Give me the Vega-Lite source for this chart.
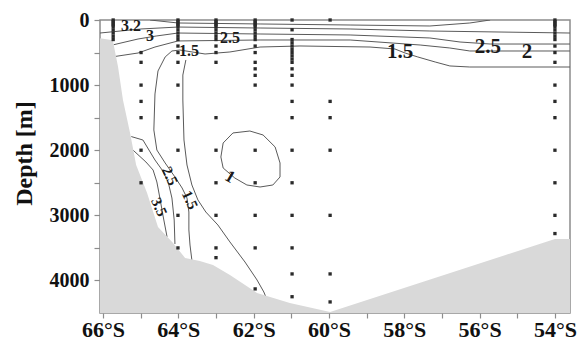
{
  "$schema": "https://vega.github.io/schema/vega-lite/v6.json",
  "width": 470,
  "height": 293,
  "autosize": {"type": "none"},
  "padding": {"left": 100, "top": 20, "right": 10, "bottom": 27},
  "background": "white",
  "config": {
    "view": {"stroke": "#8c8c8c", "strokeWidth": 1.5},
    "font": "Liberation Serif"
  },
  "datasets": {
    "bathy": [
      {"lat": -66.08, "depth": 280}, {"lat": -65.74, "depth": 310}, {"lat": -65.6, "depth": 720},
      {"lat": -65.47, "depth": 1230}, {"lat": -65.28, "depth": 1740}, {"lat": -65.12, "depth": 2227},
      {"lat": -64.83, "depth": 2657}, {"lat": -64.54, "depth": 3179}, {"lat": -64.14, "depth": 3425},
      {"lat": -63.82, "depth": 3655}, {"lat": -63.43, "depth": 3700}, {"lat": -63.08, "depth": 3763},
      {"lat": -62.63, "depth": 3916}, {"lat": -61.91, "depth": 4193}, {"lat": -61.04, "depth": 4346},
      {"lat": -59.97, "depth": 4485}, {"lat": -54.0, "depth": 3363}, {"lat": -53.6, "depth": 3363}
    ],
    "contours": [
      {"c": "c1", "i": 0, "lat": -53.6, "depth": 722}, {"c": "c1", "i": 1, "lat": -56.26, "depth": 722},
      {"c": "c1", "i": 2, "lat": -56.79, "depth": 706}, {"c": "c1", "i": 3, "lat": -57.18, "depth": 645},
      {"c": "c1", "i": 4, "lat": -57.64, "depth": 568}, {"c": "c1", "i": 5, "lat": -57.98, "depth": 507},
      {"c": "c1", "i": 6, "lat": -58.25, "depth": 445}, {"c": "c1", "i": 7, "lat": -58.91, "depth": 415},
      {"c": "c1", "i": 8, "lat": -60.77, "depth": 399}, {"c": "c1", "i": 9, "lat": -61.83, "depth": 415},
      {"c": "c1", "i": 10, "lat": -62.63, "depth": 491}, {"c": "c1", "i": 11, "lat": -63.29, "depth": 522},
      {"c": "c1", "i": 12, "lat": -63.96, "depth": 461}, {"c": "c1", "i": 13, "lat": -64.17, "depth": 476},
      {"c": "c1", "i": 14, "lat": -64.35, "depth": 568}, {"c": "c1", "i": 15, "lat": -64.54, "depth": 783},
      {"c": "c1", "i": 16, "lat": -64.62, "depth": 1136}, {"c": "c1", "i": 17, "lat": -64.65, "depth": 1689},
      {"c": "c1", "i": 18, "lat": -64.57, "depth": 1997}, {"c": "c1", "i": 19, "lat": -64.35, "depth": 2196},
      {"c": "c1", "i": 20, "lat": -64.09, "depth": 2411}, {"c": "c1", "i": 21, "lat": -63.9, "depth": 2580},
      {"c": "c1", "i": 22, "lat": -63.77, "depth": 2734}, {"c": "c1", "i": 23, "lat": -63.72, "depth": 2949},
      {"c": "c1", "i": 24, "lat": -63.72, "depth": 3225}, {"c": "c1", "i": 25, "lat": -63.69, "depth": 3456},
      {"c": "c1", "i": 26, "lat": -63.64, "depth": 3690},

      {"c": "c2", "i": 0, "lat": -63.8, "depth": 614}, {"c": "c2", "i": 1, "lat": -63.88, "depth": 845},
      {"c": "c2", "i": 2, "lat": -63.88, "depth": 1229}, {"c": "c2", "i": 3, "lat": -63.85, "depth": 1843},
      {"c": "c2", "i": 4, "lat": -63.77, "depth": 2227}, {"c": "c2", "i": 5, "lat": -63.64, "depth": 2534},
      {"c": "c2", "i": 6, "lat": -63.48, "depth": 2764}, {"c": "c2", "i": 7, "lat": -63.27, "depth": 2949},
      {"c": "c2", "i": 8, "lat": -62.95, "depth": 3148}, {"c": "c2", "i": 9, "lat": -62.63, "depth": 3409},
      {"c": "c2", "i": 10, "lat": -62.23, "depth": 3717}, {"c": "c2", "i": 11, "lat": -61.91, "depth": 3993},
      {"c": "c2", "i": 12, "lat": -61.73, "depth": 4177}, {"c": "c2", "i": 13, "lat": -61.65, "depth": 4290},

      {"c": "c3", "i": 0, "lat": -65.25, "depth": 1790}, {"c": "c3", "i": 1, "lat": -64.94, "depth": 1843},
      {"c": "c3", "i": 2, "lat": -64.78, "depth": 1997}, {"c": "c3", "i": 3, "lat": -64.62, "depth": 2150},
      {"c": "c3", "i": 4, "lat": -64.43, "depth": 2304}, {"c": "c3", "i": 5, "lat": -64.27, "depth": 2488},
      {"c": "c3", "i": 6, "lat": -64.17, "depth": 2734}, {"c": "c3", "i": 7, "lat": -64.11, "depth": 3072},
      {"c": "c3", "i": 8, "lat": -64.09, "depth": 3440},

      {"c": "c4", "i": 0, "lat": -65.2, "depth": 2000}, {"c": "c4", "i": 1, "lat": -64.86, "depth": 2181},
      {"c": "c4", "i": 2, "lat": -64.67, "depth": 2304}, {"c": "c4", "i": 3, "lat": -64.57, "depth": 2488},
      {"c": "c4", "i": 4, "lat": -64.49, "depth": 2734}, {"c": "c4", "i": 5, "lat": -64.41, "depth": 2995},
      {"c": "c4", "i": 6, "lat": -64.3, "depth": 3330},

      {"c": "c5", "i": 0, "lat": -62.81, "depth": 1889}, {"c": "c5", "i": 1, "lat": -62.55, "depth": 1735},
      {"c": "c5", "i": 2, "lat": -62.1, "depth": 1705}, {"c": "c5", "i": 3, "lat": -61.75, "depth": 1766},
      {"c": "c5", "i": 4, "lat": -61.43, "depth": 1950}, {"c": "c5", "i": 5, "lat": -61.3, "depth": 2196},
      {"c": "c5", "i": 6, "lat": -61.3, "depth": 2411}, {"c": "c5", "i": 7, "lat": -61.49, "depth": 2534},
      {"c": "c5", "i": 8, "lat": -61.83, "depth": 2565}, {"c": "c5", "i": 9, "lat": -62.18, "depth": 2534},
      {"c": "c5", "i": 10, "lat": -62.5, "depth": 2427}, {"c": "c5", "i": 11, "lat": -62.81, "depth": 2273},
      {"c": "c5", "i": 12, "lat": -62.87, "depth": 2104}, {"c": "c5", "i": 13, "lat": -62.81, "depth": 1889},

      {"c": "b3", "i": 0, "lat": -65.68, "depth": 560}, {"c": "b3", "i": 1, "lat": -65.07, "depth": 507},
      {"c": "b3", "i": 2, "lat": -64.62, "depth": 415}, {"c": "b3", "i": 3, "lat": -64.01, "depth": 322},
      {"c": "b3", "i": 4, "lat": -61.83, "depth": 307}, {"c": "b3", "i": 5, "lat": -59.44, "depth": 307},
      {"c": "b3", "i": 6, "lat": -57.58, "depth": 384}, {"c": "b3", "i": 7, "lat": -56.79, "depth": 430},
      {"c": "b3", "i": 8, "lat": -56.26, "depth": 476}, {"c": "b3", "i": 9, "lat": -53.6, "depth": 476},

      {"c": "b2", "i": 0, "lat": -65.72, "depth": 380}, {"c": "b2", "i": 1, "lat": -65.07, "depth": 292},
      {"c": "b2", "i": 2, "lat": -64.59, "depth": 246}, {"c": "b2", "i": 3, "lat": -64.01, "depth": 200},
      {"c": "b2", "i": 4, "lat": -61.83, "depth": 215}, {"c": "b2", "i": 5, "lat": -59.44, "depth": 230},
      {"c": "b2", "i": 6, "lat": -57.32, "depth": 276}, {"c": "b2", "i": 7, "lat": -56.52, "depth": 338},
      {"c": "b2", "i": 8, "lat": -55.72, "depth": 369}, {"c": "b2", "i": 9, "lat": -53.6, "depth": 369},

      {"c": "b1", "i": 0, "lat": -66.08, "depth": 200}, {"c": "b1", "i": 1, "lat": -65.0, "depth": 138},
      {"c": "b1", "i": 2, "lat": -64.01, "depth": 108}, {"c": "b1", "i": 3, "lat": -61.83, "depth": 123},
      {"c": "b1", "i": 4, "lat": -59.44, "depth": 138}, {"c": "b1", "i": 5, "lat": -57.32, "depth": 169},
      {"c": "b1", "i": 6, "lat": -53.6, "depth": 200},

      {"c": "b0", "i": 0, "lat": -64.75, "depth": 0}, {"c": "b0", "i": 1, "lat": -64.01, "depth": 46},
      {"c": "b0", "i": 2, "lat": -61.83, "depth": 61}, {"c": "b0", "i": 3, "lat": -59.44, "depth": 77},
      {"c": "b0", "i": 4, "lat": -57.32, "depth": 92}, {"c": "b0", "i": 5, "lat": -56.26, "depth": 46},
      {"c": "b0", "i": 6, "lat": -55.72, "depth": 0}
    ],
    "stations": [
      {"lat": -65.73, "depth": 0}, {"lat": -65.73, "depth": 25}, {"lat": -65.73, "depth": 50}, {"lat": -65.73, "depth": 75},
      {"lat": -65.73, "depth": 100}, {"lat": -65.73, "depth": 150}, {"lat": -65.73, "depth": 200}, {"lat": -65.73, "depth": 250},
      {"lat": -65.73, "depth": 300},
      {"lat": -64.99, "depth": 500}, {"lat": -64.99, "depth": 650}, {"lat": -64.99, "depth": 1000}, {"lat": -64.99, "depth": 1250},
      {"lat": -64.99, "depth": 1500}, {"lat": -64.99, "depth": 2000}, {"lat": -64.99, "depth": 2500},
      {"lat": -64.01, "depth": 0}, {"lat": -64.01, "depth": 25}, {"lat": -64.01, "depth": 50}, {"lat": -64.01, "depth": 75},
      {"lat": -64.01, "depth": 100}, {"lat": -64.01, "depth": 150}, {"lat": -64.01, "depth": 200}, {"lat": -64.01, "depth": 250},
      {"lat": -64.01, "depth": 300}, {"lat": -64.01, "depth": 400}, {"lat": -64.01, "depth": 500}, {"lat": -64.01, "depth": 650},
      {"lat": -64.01, "depth": 1000}, {"lat": -64.01, "depth": 1500}, {"lat": -64.01, "depth": 2000}, {"lat": -64.01, "depth": 3000},
      {"lat": -64.01, "depth": 3500},
      {"lat": -63.0, "depth": 0}, {"lat": -63.0, "depth": 25}, {"lat": -63.0, "depth": 50}, {"lat": -63.0, "depth": 75},
      {"lat": -63.0, "depth": 100}, {"lat": -63.0, "depth": 150}, {"lat": -63.0, "depth": 200}, {"lat": -63.0, "depth": 250},
      {"lat": -63.0, "depth": 300}, {"lat": -63.0, "depth": 400}, {"lat": -63.0, "depth": 500}, {"lat": -63.0, "depth": 650},
      {"lat": -63.0, "depth": 1500}, {"lat": -63.0, "depth": 2000}, {"lat": -63.0, "depth": 2500}, {"lat": -63.0, "depth": 3000},
      {"lat": -63.0, "depth": 3500}, {"lat": -63.0, "depth": 3650},
      {"lat": -61.96, "depth": 0}, {"lat": -61.96, "depth": 25}, {"lat": -61.96, "depth": 50}, {"lat": -61.96, "depth": 75},
      {"lat": -61.96, "depth": 100}, {"lat": -61.96, "depth": 150}, {"lat": -61.96, "depth": 200}, {"lat": -61.96, "depth": 250},
      {"lat": -61.96, "depth": 300}, {"lat": -61.96, "depth": 400}, {"lat": -61.96, "depth": 500}, {"lat": -61.96, "depth": 650},
      {"lat": -61.96, "depth": 750}, {"lat": -61.96, "depth": 850}, {"lat": -61.96, "depth": 1000}, {"lat": -61.96, "depth": 2000},
      {"lat": -61.96, "depth": 2500}, {"lat": -61.96, "depth": 3000}, {"lat": -61.96, "depth": 3500}, {"lat": -61.96, "depth": 4130},
      {"lat": -60.98, "depth": 0}, {"lat": -60.98, "depth": 150}, {"lat": -60.98, "depth": 300}, {"lat": -60.98, "depth": 350},
      {"lat": -60.98, "depth": 400}, {"lat": -60.98, "depth": 450}, {"lat": -60.98, "depth": 500}, {"lat": -60.98, "depth": 550},
      {"lat": -60.98, "depth": 600}, {"lat": -60.98, "depth": 650}, {"lat": -60.98, "depth": 750}, {"lat": -60.98, "depth": 850},
      {"lat": -60.98, "depth": 1000}, {"lat": -60.98, "depth": 1250}, {"lat": -60.98, "depth": 1500}, {"lat": -60.98, "depth": 2000},
      {"lat": -60.98, "depth": 2500}, {"lat": -60.98, "depth": 3000}, {"lat": -60.98, "depth": 3500}, {"lat": -60.98, "depth": 3900},
      {"lat": -60.98, "depth": 4250},
      {"lat": -59.97, "depth": 0}, {"lat": -59.97, "depth": 1250}, {"lat": -59.97, "depth": 1500}, {"lat": -59.97, "depth": 2000},
      {"lat": -59.97, "depth": 3000}, {"lat": -59.97, "depth": 3900}, {"lat": -59.97, "depth": 4330},
      {"lat": -54.0, "depth": 0}, {"lat": -54.0, "depth": 25}, {"lat": -54.0, "depth": 50}, {"lat": -54.0, "depth": 75},
      {"lat": -54.0, "depth": 100}, {"lat": -54.0, "depth": 150}, {"lat": -54.0, "depth": 200}, {"lat": -54.0, "depth": 250},
      {"lat": -54.0, "depth": 300}, {"lat": -54.0, "depth": 400}, {"lat": -54.0, "depth": 500}, {"lat": -54.0, "depth": 650},
      {"lat": -54.0, "depth": 1000}, {"lat": -54.0, "depth": 1250}, {"lat": -54.0, "depth": 1500}, {"lat": -54.0, "depth": 2000},
      {"lat": -54.0, "depth": 2500}, {"lat": -54.0, "depth": 3000}, {"lat": -54.0, "depth": 3280}
    ],
    "labels": [
      {"text": "2.5", "lat": -55.78, "depth": 415, "group": "big"},
      {"text": "2", "lat": -54.74, "depth": 491, "group": "big"},
      {"text": "1.5", "lat": -58.11, "depth": 491, "group": "big"},
      {"text": "1.5", "lat": -63.72, "depth": 476, "group": "small"},
      {"text": "2.5", "lat": -62.63, "depth": 276, "group": "small"},
      {"text": "3.2", "lat": -65.26, "depth": 92, "group": "small"},
      {"text": "3", "lat": -64.75, "depth": 246, "group": "small"},
      {"text": "2.5", "lat": -64.22, "depth": 2396, "group": "slope"},
      {"text": "3.5", "lat": -64.51, "depth": 2872, "group": "slope"},
      {"text": "1.5", "lat": -63.69, "depth": 2764, "group": "slope"},
      {"text": "1", "lat": -62.63, "depth": 2411, "group": "loop"}
    ]
  },
  "encoding": {
    "x": {
      "field": "lat",
      "type": "quantitative",
      "scale": {"domain": [-66.08, -53.6], "nice": false, "zero": false},
      "axis": {
        "title": null,
        "values": [-66, -65, -64, -63, -62, -61, -60, -59, -58, -57, -56, -55, -54],
        "labelExpr": "datum.value % 2 == 0 ? format(-datum.value, 'd') + '°S' : ''",
        "labelFont": "Liberation Serif",
        "labelFontWeight": "bold",
        "labelFontSize": 22,
        "labelColor": "#111",
        "labelPadding": 1,
        "labelFlush": false,
        "labelOverlap": false,
        "tickSize": 5,
        "tickColor": "#8c8c8c",
        "tickWidth": 1.2,
        "domain": false,
        "grid": false
      }
    },
    "y": {
      "field": "depth",
      "type": "quantitative",
      "scale": {"domain": [0, 4500], "reverse": true, "nice": false, "zero": false},
      "axis": {
        "title": "Depth [m]",
        "titleFont": "Liberation Serif",
        "titleFontWeight": "bold",
        "titleFontSize": 24,
        "titleColor": "#111",
        "titleAngle": -90,
        "titleX": -64,
        "titleY": 133,
        "titleAlign": "center",
        "titleBaseline": "bottom",
        "values": [0, 500, 1000, 1500, 2000, 2500, 3000, 3500, 4000],
        "labelExpr": "datum.value % 1000 == 0 ? format(datum.value, 'd') : ''",
        "labelFont": "Liberation Serif",
        "labelFontWeight": "bold",
        "labelFontSize": 20,
        "labelColor": "#111",
        "labelPadding": 5,
        "labelOverlap": false,
        "labelFlush": false,
        "tickSize": 6,
        "tickColor": "#8c8c8c",
        "tickWidth": 1.2,
        "domain": false,
        "grid": false
      }
    }
  },
  "layer": [
    {
      "data": {"name": "contours"},
      "mark": {"type": "line", "color": "#5a5a5a", "strokeWidth": 1, "clip": true},
      "encoding": {
        "detail": {"field": "c", "type": "nominal"},
        "order": {"field": "i", "type": "quantitative"}
      }
    },
    {
      "data": {"name": "bathy"},
      "mark": {"type": "area", "color": "#d9d9d9", "orient": "vertical", "clip": true},
      "encoding": {
        "y2": {"datum": 4500}
      }
    },
    {
      "data": {"name": "stations"},
      "mark": {"type": "point", "shape": "square", "filled": true, "size": 11, "color": "#2a2a2a", "opacity": 1},
      "encoding": {}
    },
    {
      "data": {"name": "labels"},
      "transform": [{"filter": "datum.group == 'big'"}],
      "mark": {"type": "text", "font": "Liberation Serif", "fontWeight": "bold", "fontSize": 21, "color": "#1a1a1a"},
      "encoding": {"text": {"field": "text"}}
    },
    {
      "data": {"name": "labels"},
      "transform": [{"filter": "datum.group == 'small'"}],
      "mark": {"type": "text", "font": "Liberation Serif", "fontWeight": "bold", "fontSize": 16, "color": "#1a1a1a"},
      "encoding": {"text": {"field": "text"}}
    },
    {
      "data": {"name": "labels"},
      "transform": [{"filter": "datum.group == 'slope'"}],
      "mark": {"type": "text", "font": "Liberation Serif", "fontWeight": "bold", "fontSize": 15, "angle": 65, "color": "#1a1a1a"},
      "encoding": {"text": {"field": "text"}}
    },
    {
      "data": {"name": "labels"},
      "transform": [{"filter": "datum.group == 'loop'"}],
      "mark": {"type": "text", "font": "Liberation Serif", "fontWeight": "bold", "fontSize": 17, "angle": 30, "color": "#1a1a1a"},
      "encoding": {"text": {"field": "text"}}
    }
  ]
}
